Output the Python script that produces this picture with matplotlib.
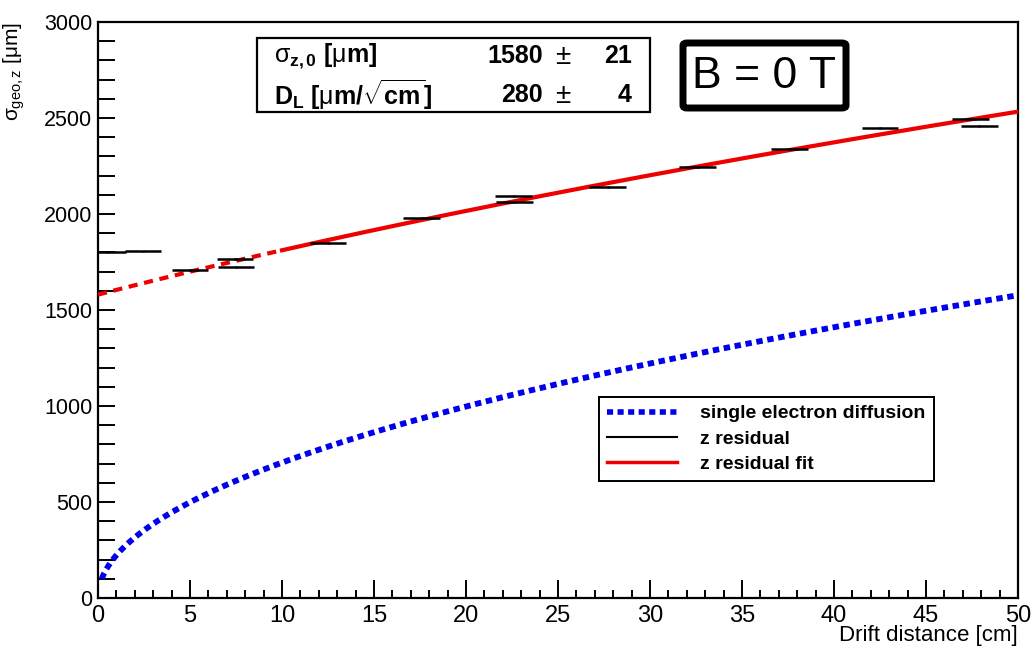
import numpy as np
import matplotlib
matplotlib.use("Agg")
import matplotlib.pyplot as plt
from matplotlib.patches import Rectangle, FancyBboxPatch
from matplotlib.lines import Line2D
from matplotlib.ticker import MultipleLocator
from matplotlib import font_manager

# ---- measured z residual widths (drift distance bins) ----
drift_cm = [0.5, 2.45, 5.0, 7.45, 7.5, 12.5, 17.6, 22.6, 22.65, 27.7, 32.6, 37.6, 42.5, 47.4, 47.9]
sigma_um = [1803, 1805, 1708, 1766, 1724, 1849, 1979, 2094, 2063, 2141, 2245, 2339, 2448, 2495, 2458]
drift_err = [1.0, 1.0, 1.0, 1.0, 1.0, 1.0, 1.0, 1.0, 1.0, 1.0, 1.0, 1.0, 1.0, 1.0, 1.0]
sigma_err = [4, 4, 4, 4, 4, 4, 4, 4, 4, 4, 4, 4, 4, 4, 4]

# ---- fit parameters: sigma(z) = sqrt(sigma0^2 + D_L^2 z) ----
sigma0, sigma0_err = 1580, 21
D_L, D_L_err = 280, 4
fit_start = 10.0
# single electron diffusion coefficient [um/sqrt(cm)]
D_single = 223

names = {f.name for f in font_manager.fontManager.ttflist}
base_font = "Liberation Sans" if "Liberation Sans" in names else "DejaVu Sans"
narrow_font = "Liberation Sans Narrow" if "Liberation Sans Narrow" in names else base_font
plt.rcParams["font.family"] = [base_font, "DejaVu Sans"]
plt.rcParams["mathtext.fontset"] = "custom"
plt.rcParams["mathtext.rm"] = base_font
plt.rcParams["mathtext.it"] = base_font
plt.rcParams["mathtext.bf"] = base_font + ":bold"

W, H = 1032, 649
fig = plt.figure(figsize=(W / 100, H / 100), dpi=100)
ax = fig.add_axes([98 / W, 1 - 598 / H, (1018 - 98) / W, (598 - 22) / H])

# single electron diffusion
z_single = np.linspace(0.2, 50, 400)
ax.plot(z_single, D_single * np.sqrt(z_single), color="#0000ee", lw=4.2,
        linestyle=(0, (1.1, 0.8)), dash_capstyle="butt", zorder=3)

# residual fit: solid in fit range, dashed extrapolation
z_in = np.linspace(fit_start, 50, 300)
z_out = np.linspace(0, fit_start, 100)
ax.plot(z_out, np.sqrt(sigma0**2 + D_L**2 * z_out), color="#ee0000", lw=3,
        linestyle=(0, (2.2, 1.6)), zorder=4)
ax.plot(z_in, np.sqrt(sigma0**2 + D_L**2 * z_in), color="#ee0000", lw=3, zorder=4)

# residual widths
ax.errorbar(drift_cm, sigma_um, xerr=drift_err, yerr=sigma_err, fmt="none",
            ecolor="black", elinewidth=1.8, capsize=0, zorder=5)

ax.set_xlim(0, 50)
ax.set_ylim(0, 3000)
ax.xaxis.set_major_locator(MultipleLocator(5))
ax.xaxis.set_minor_locator(MultipleLocator(1))
ax.yaxis.set_major_locator(MultipleLocator(500))
ax.yaxis.set_minor_locator(MultipleLocator(100))
ax.tick_params(axis="x", which="major", direction="in", length=13, width=1.4,
               labelsize=17, pad=5)
ax.tick_params(axis="x", which="minor", direction="in", length=6, width=1.4)
ax.tick_params(axis="y", which="major", direction="in", length=12.5, width=1.4,
               labelsize=15.5, pad=4)
ax.tick_params(axis="y", which="minor", direction="in", length=12, width=1.4)
for lab in ax.get_xticklabels():
    lab.set_fontfamily([narrow_font, "DejaVu Sans"])
for sp in ax.spines.values():
    sp.set_linewidth(1.6)

# axis titles
fig.text(1018 / W, 1 - 636 / H, "Drift distance [cm]", fontsize=16, ha="right",
         va="center", family=[narrow_font, "DejaVu Sans"])
ax.set_ylabel(r"$\sigma_{\mathrm{geo,z}}$ [$\mu$m]", fontsize=15, ha="right", y=1.0,
              labelpad=12)

# legend
handles = [
    Line2D([], [], color="#0000ee", lw=4, linestyle=(0, (1.1, 0.8))),
    Line2D([], [], color="black", lw=1.5),
    Line2D([], [], color="#ee0000", lw=2.5),
]
labels = ["single electron diffusion", "z residual", "z residual fit"]
leg = ax.legend(handles, labels, loc="center",
                bbox_to_anchor=((590 - 98) / 920, (598 - 485) / 576,
                                (943 - 590) / 920, (485 - 393) / 576),
                frameon=True, fancybox=False, edgecolor="black", framealpha=1,
                prop={"family": base_font, "weight": "bold", "size": 14},
                handlelength=3.6, handletextpad=1.2, labelspacing=0.4,
                borderpad=0.4, borderaxespad=0)
leg.get_frame().set_linewidth(1.4)
ax.add_artist(leg)

# fit parameter box
def fx(px):
    return px / W

def fy(py):
    return 1 - py / H

fig.patches.append(Rectangle((fx(257), fy(112)), fx(650) - fx(257), fy(38) - fy(112),
                             transform=fig.transFigure, facecolor="white",
                             edgecolor="black", lw=1.6, zorder=10))
kw = dict(transform=fig.transFigure, fontsize=18, fontweight="bold", va="center",
          zorder=11)
fig.text(fx(274), fy(56), r"$\sigma_{\mathbf{z,0}}$ [$\mu$m]", ha="left", **kw)
fig.text(fx(274), fy(95), r"$\mathbf{D_L}$ [$\mu$m/$\sqrt{\mathbf{cm}}$]", ha="left", **kw)
fig.text(fx(543), fy(56), f"{sigma0}", ha="right", **kw)
fig.text(fx(543), fy(95), f"{D_L}", ha="right", **kw)
fig.text(fx(563), fy(57), "±", ha="center", **{**kw, "fontweight": "normal", "fontsize": 20})
fig.text(fx(563), fy(96), "±", ha="center", **{**kw, "fontweight": "normal", "fontsize": 20})
fig.text(fx(632), fy(56), f"{sigma0_err}", ha="right", **kw)
fig.text(fx(632), fy(95), f"{D_L_err}", ha="right", **kw)

# magnetic field label
fig.patches.append(FancyBboxPatch((fx(683), fy(108)), fx(846) - fx(683), fy(43) - fy(108),
                                  boxstyle="round,pad=0,rounding_size=0.004",
                                  transform=fig.transFigure, facecolor="white",
                                  edgecolor="black", lw=5, zorder=10))
fig.text(fx(764), fy(76), "B = 0 T", transform=fig.transFigure, fontsize=32,
         ha="center", va="center", zorder=11)

fig.savefig("out.png", dpi=100)
